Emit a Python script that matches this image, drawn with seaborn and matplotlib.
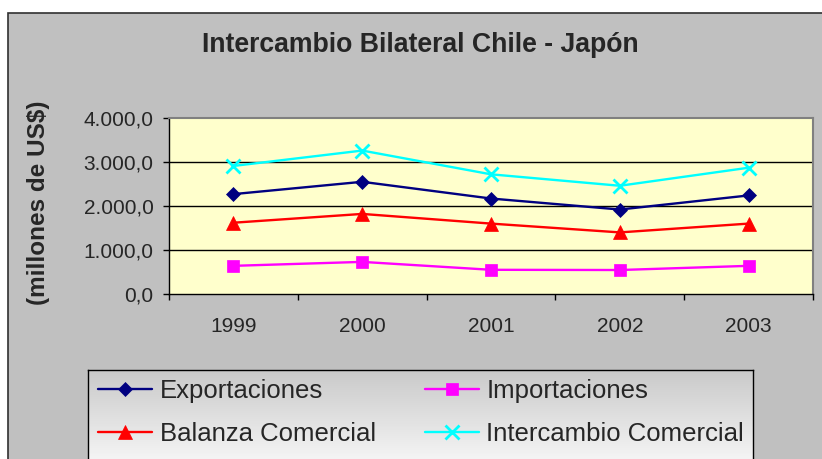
import numpy as np
import pandas as pd
import matplotlib
matplotlib.use("Agg")
import matplotlib.pyplot as plt
import matplotlib.ticker as mticker
from matplotlib.patches import Rectangle
import seaborn as sns

# datos (millones de US$)
years = ["1999", "2000", "2001", "2002", "2003"]
exportaciones = [2270, 2550, 2170, 1920, 2240]
importaciones = [640, 730, 550, 545, 640]
balanza = [1620, 1820, 1600, 1400, 1600]
intercambio = [2910, 3260, 2720, 2460, 2870]

series = {
    "Exportaciones": exportaciones,
    "Importaciones": importaciones,
    "Balanza Comercial": balanza,
    "Intercambio Comercial": intercambio,
}
estilos = {
    "Exportaciones": dict(color="#000080", marker="D", ms=7.5),
    "Importaciones": dict(color="#ff00ff", marker="s", ms=9.0),
    "Balanza Comercial": dict(color="#ff0000", marker="^", ms=10.0),
    "Intercambio Comercial": dict(color="#00ffff", marker="x", ms=9.5),
}

sns.set_style("white")
plt.rcParams["font.family"] = ["Liberation Sans", "DejaVu Sans"]

W, H = 822, 459
fig = plt.figure(figsize=(W / 100, H / 100), dpi=100, facecolor="white")

# area del grafico (gris)
fig.add_artist(Rectangle((8 / W, -0.1), 1.1, 1.1 - 13 / H, transform=fig.transFigure,
                         facecolor="#c0c0c0", edgecolor="#303030", lw=1.2, zorder=-5))

ax = fig.add_axes([169 / W, 1 - 294 / H, 644 / W, 176 / H], zorder=2)
ax.set_facecolor("#ffffcc")

df = pd.DataFrame({"pos": np.arange(len(years))})
for nombre, vals in series.items():
    st = estilos[nombre]
    df[nombre] = vals
    sns.lineplot(data=df, x="pos", y=nombre, ax=ax, color=st["color"], lw=1.7,
                 marker=st["marker"], markersize=st["ms"], markeredgecolor=st["color"],
                 markeredgewidth=2 if st["marker"] == "x" else 0.5, label=nombre, legend=False)

ax.set_xlim(-0.5, len(years) - 0.5)
ax.set_ylim(0, 4000)
ax.set_xlabel("")
ax.set_ylabel("")
ax.set_xticks(np.arange(len(years)))
ax.set_xticklabels(years)
ax.set_xticks(np.arange(len(years) + 1) - 0.5, minor=True)
ax.set_yticks(np.arange(0, 4001, 1000))


def fmt(v, _):
    s = f"{v:,.1f}"
    return s.replace(",", "X").replace(".", ",").replace("X", ".")


ax.yaxis.set_major_formatter(mticker.FuncFormatter(fmt))
ax.tick_params(axis="x", which="major", length=0, pad=16.5, labelsize=15)
ax.tick_params(axis="x", which="minor", length=4, width=1, direction="out", color="black", bottom=True)
ax.tick_params(axis="y", which="major", length=4, width=1, direction="out", pad=7, labelsize=15,
               color="black", left=True)
for y in [1000, 2000, 3000]:
    ax.axhline(y, color="black", lw=1, zorder=0.5)
for s in ["left", "bottom"]:
    ax.spines[s].set_color("black")
    ax.spines[s].set_linewidth(1)
for s in ["top", "right"]:
    ax.spines[s].set_color("#808080")
    ax.spines[s].set_linewidth(1.5)

fig.text(420 / W, 1 - 45 / H, "Intercambio Bilateral Chile - Japón", ha="center", va="center",
         fontsize=19.2, fontweight="bold")
fig.text(38 / W, 1 - 203 / H, "(millones de US$)", ha="center", va="center", rotation=90,
         fontsize=17.5, fontweight="bold")

# caja de leyenda con degradado
lax = fig.add_axes([88 / W, -0.05, 665 / W, (459 - 370) / H + 0.05], zorder=1)
grad = np.linspace(0.79, 1.0, 100)[:, None] * np.ones((1, 3))
lax.imshow(grad[:, None, :], aspect="auto", extent=[0, 1, 0, 1], origin="upper")
lax.set_xticks([])
lax.set_yticks([])
for s in lax.spines.values():
    s.set_color("black")
    s.set_linewidth(1)

handles, labels = ax.get_legend_handles_labels()
orden = [0, 2, 1, 3]
fig.legend([handles[i] for i in orden], [labels[i] for i in orden], ncol=2,
           loc="upper left", bbox_to_anchor=(93 / W, 1 - 374 / H), frameon=False,
           fontsize=18.5, handlelength=2.1, handletextpad=0.3, columnspacing=1.9,
           labelspacing=0.72, borderaxespad=0, borderpad=0.2)

fig.savefig("out.png", dpi=100, facecolor="white")
